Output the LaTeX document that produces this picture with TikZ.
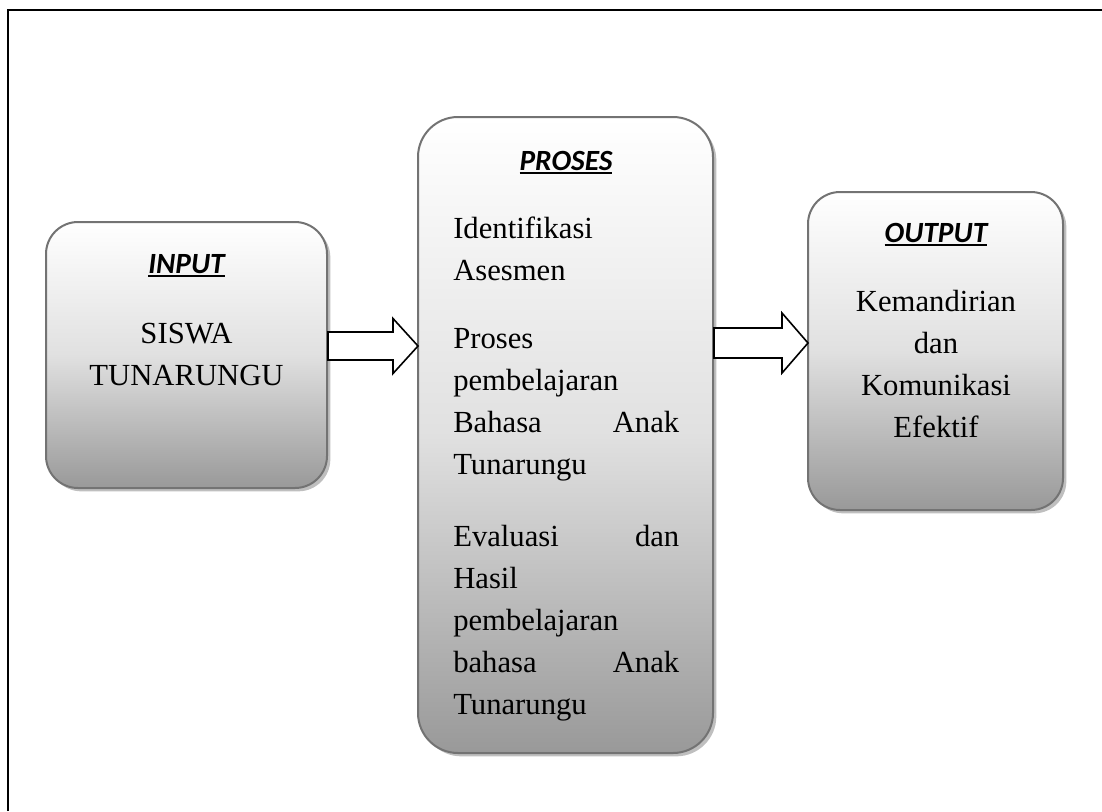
\documentclass[tikz,border=0pt]{standalone}
\usepackage{fontspec}
\setmainfont{Liberation Serif}
\newfontfamily\headfont{Carlito}
\usetikzlibrary{shadows,calc}
\newcommand{\headul}[1]{\setbox0\hbox{#1}\rlap{\rule[-3.2pt]{\wd0}{1.5pt}}\box0}

\tikzset{
  flowbox/.style={draw=black!55, line width=1.5pt, rounded corners=24pt, shading=axis, top color=white, bottom color=black!40, middle color=black!12, drop shadow={shadow xshift=2.5pt, shadow yshift=-2.5pt, fill=black!25, opacity=1}},
  headtext/.style={anchor=base, inner sep=0pt, font=\headfont\fontsize{22}{26}\selectfont\bfseries\itshape},
  bodytext/.style={inner sep=0pt, font=\fontsize{23}{31.5}\selectfont},
  steptext/.style={bodytext, anchor=base west, text width=169.5pt, align=left},
  midtext/.style={bodytext, anchor=base, text width=180pt, align=center},
  blkarrow/.style={draw=black, line width=1.2pt, fill=white, line join=miter},
}

\begin{document}
\begin{tikzpicture}[x=0.75pt,y=0.75pt,yscale=-1,xscale=1]
\useasboundingbox (0,0) rectangle (1102,811);

%Frame
\draw[line width=1.5pt] (8,811) -- (8,10) -- (1102,10);

%Shape: Rounded Rect [input]
\node[flowbox, minimum width=210.75pt, minimum height=199.5pt] (input) at (186.5,355) {};
%Shape: Rounded Rect [proses]
\node[flowbox, rounded corners=30pt, minimum width=221.25pt, minimum height=477pt] (proses) at (565.5,435) {};
%Shape: Rounded Rect [output]
\node[flowbox, minimum width=191.25pt, minimum height=238.5pt] (output) at (935.5,351) {};

%Text: input
\node[headtext] (inhead) at (186.5,273) {\headul{INPUT}};
\node[midtext] (intext) at (186.5,343) {SISWA\\TUNARUNGU};

%Text: proses
\node[headtext] (prhead) at (566,170) {\headul{PROSES}};
\node[steptext] (prstep1) at (453,238) {Identifikasi\\Asesmen};
\node[steptext] (prstep2) at (453,348) {Proses\\pembelajaran\\Bahasa\hfill Anak\\Tunarungu};
\node[steptext] (prstep3) at (453,546) {Evaluasi\hfill dan\\Hasil\\pembelajaran\\bahasa\hfill Anak\\Tunarungu};

%Text: output
\node[headtext] (outhead) at (936,242) {\headul{OUTPUT}};
\node[midtext] (outtext) at (936,311) {Kemandirian\\dan\\Komunikasi\\Efektif};

%Block Arrow: input -> proses
\coordinate (a1) at ($(input.east)+(0,-9)$);
\coordinate (t1) at (a1 -| proses.west);
\draw[blkarrow] ($(a1)+(0,-14)$) -- ($(t1)+(-24,-14)$) -- ($(t1)+(-24,-27.5)$) -- ($(t1)+(1,0)$) -- ($(t1)+(-24,27.5)$) -- ($(t1)+(-24,14)$) -- ($(a1)+(0,14)$) -- cycle;

%Block Arrow: proses -> output
\coordinate (t2) at ($(output.west)+(0,-8)$);
\coordinate (a2) at (t2 -| proses.east);
\draw[blkarrow] ($(a2)+(0,-15)$) -- ($(t2)+(-25,-15)$) -- ($(t2)+(-25,-30)$) -- ($(t2)+(1,0)$) -- ($(t2)+(-25,30)$) -- ($(t2)+(-25,15)$) -- ($(a2)+(0,15)$) -- cycle;

\end{tikzpicture}
\end{document}
